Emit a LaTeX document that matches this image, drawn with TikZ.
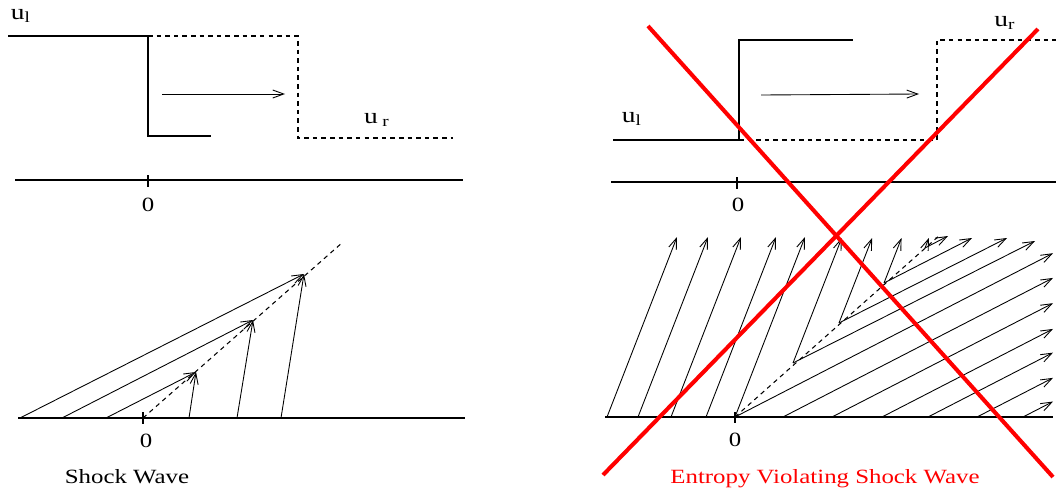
\documentclass[tikz,border=0pt]{standalone}
\usepackage{fontspec}
\setmainfont{Liberation Serif}
\usetikzlibrary{arrows.meta}
\definecolor{alarm}{RGB}{255,0,0}
\tikzset{
  axis/.style={line width=0.6pt},
  state/.style={line width=0.6pt},
  moved/.style={line width=0.6pt, dash pattern=on 2.6pt off 2.3pt},
  char/.style={line width=0.5pt, -{Straight Barb[length=2.2mm,width=1.6mm]}},
  lbl/.style={inner sep=0pt, xscale=1.23, font=\fontsize{11.5}{13}\selectfont},
  sym/.style={inner sep=0pt, xscale=1.25, font=\fontsize{12.5}{14}\selectfont},
  xline/.style={draw=alarm, line width=2.3pt},
}
\begin{document}
\begin{tikzpicture}[x=0.02cm,y=-0.02cm]
  \useasboundingbox (0,0) rectangle (1056,490);
  % left: shock moving right
  \draw[state] (8,36) -- (148,36) -- (148,136) -- (211,136);
  \draw[moved] (148,36) -- (298,36) -- (298,138) -- (453,138);
  \draw[char] (162,94) -- (285,94);
  \draw[axis] (15,180) -- (463,180);
  \draw[axis] (148,175) -- (148,187);
  \node[sym] (ulA) at (21,16) {u\textsubscript{l}};
  \node[sym] (urA) at (377,120) {u\,\textsubscript{r}};
  \node[lbl] (zeroA) at (148,205) {0};
  % left: characteristics into the shock
  \coordinate (oB) at (143,418);
  \draw[axis] (18,418) -- (465,418);
  \draw[axis] (143,412) -- (143,424);
  \draw[moved] (oB) -- (343,242);
  \foreach \l/\r/\sx/\sy in {106/189/196/372, 62/237/253/320, 20/281/304/274}{
    \coordinate (s) at (\sx,\sy);
    \draw[char] (\l,418) -- (s);
    \draw[char] (\r,418) -- (s);
  }
  \node[lbl] (zeroB) at (146,441) {0};
  \node[lbl,anchor=base] (capA) at (127,483) {Shock Wave};

  % right: wrong jump
  \draw[state] (613,140) -- (739,140) -- (739,40) -- (853,40);
  \draw[moved] (739,140) -- (937,140) -- (937,40) -- (1056,40);
  \draw[char] (761,95) -- (919,94);
  \draw[axis] (611,182) -- (1056,182);
  \draw[axis] (737,177) -- (737,189);
  \node[sym] (ulC) at (632,119) {u\textsubscript{l}};
  \node[sym] (urC) at (1005,23) {u\textsubscript{r}};
  \node[lbl] (zeroC) at (738,205) {0};
  % right: characteristics leaving the shock
  \coordinate (oD) at (735,417);
  \draw[axis] (605,417) -- (1053,417);
  \draw[axis] (735,412) -- (735,423);
  \draw[moved] (oD) -- (940,235);
  \foreach \x in {607,638,671,706,735}
    \draw[char] (\x,417) -- ({\x+70},237);
  \foreach \kx/\ky/\ex/\ey in {793/363/1035/241, 839/323/1007/238, 884/283/972/238, 925/248/948/236}{
    \coordinate (k) at (\kx,\ky);
    \draw[char] (k) -- ({\kx+(\ky-238)*0.39},238);
    \draw[char] (k) -- (\ex,\ey);
  }
  \foreach \x in {735,783,832,882,928,977,1023}
    \draw[char] (\x,417) -- (1053,{417-(1053-\x)*0.515});
  \node[lbl] (zeroD) at (735,440) {0};
  % the cross
  \draw[xline] (648,26) -- (1053,477);
  \draw[xline] (1038,29) -- (603,475);
  \node[lbl,anchor=base,text=alarm] (capB) at (825,483) {Entropy Violating Shock Wave};
\end{tikzpicture}
\end{document}
